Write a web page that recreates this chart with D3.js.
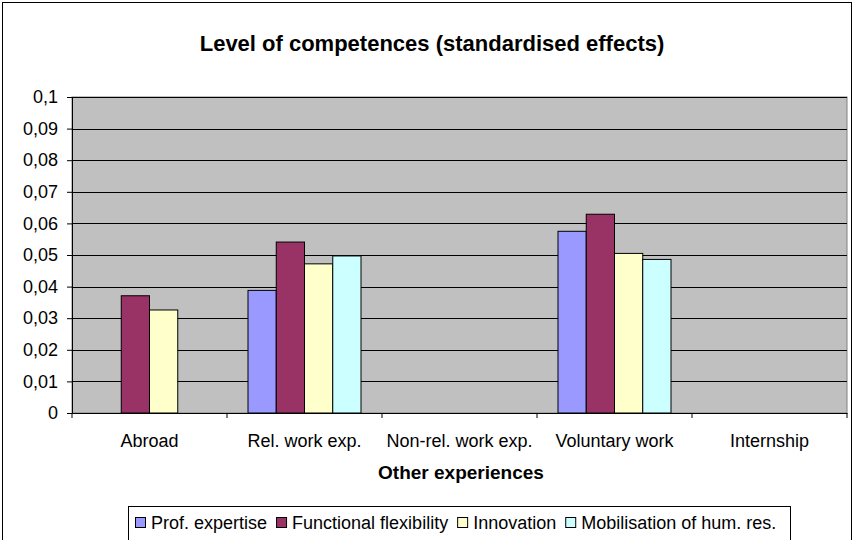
<!DOCTYPE html>
<html>
<head>
<meta charset="utf-8">
<script src="https://cdn.jsdelivr.net/npm/d3@7"></script>
<style>
  body { margin: 0; background: #fff; }
  svg { display: block; font-family: "Liberation Sans", Arial, sans-serif; }
</style>
</head>
<body>
<div id="chart"></div>
<script>
// categories and series
const categories = ["Abroad", "Rel. work exp.", "Non-rel. work exp.", "Voluntary work", "Internship"];
const seriesNames = ["Prof. expertise", "Functional flexibility", "Innovation", "Mobilisation of hum. res."];
const seriesColors = ["#9999FF", "#993366", "#FFFFCC", "#CCFFFF"];
const profExpertise = [null, 0.0388, null, 0.0575, null];
const functionalFlexibility = [0.0371, 0.0541, null, 0.0629, null];
const innovation = [0.0326, 0.0472, null, 0.0505, null];
const mobilisation = [null, 0.0497, null, 0.0486, null];
const yTicks = [0, 0.01, 0.02, 0.03, 0.04, 0.05, 0.06, 0.07, 0.08, 0.09, 0.1];

const seriesValues = [profExpertise, functionalFlexibility, innovation, mobilisation];

const W = 852, H = 540;
const margin = {top: 97, right: 5, bottom: 127, left: 72};
const width = W - margin.left - margin.right,
      height = H - margin.top - margin.bottom;

const svg = d3.select("#chart").append("svg")
    .attr("width", W).attr("height", H);

// outer chart frame
svg.append("rect")
    .attr("x", 2.5).attr("y", 2.5)
    .attr("width", W - 3).attr("height", H + 20)
    .attr("fill", "#fff").attr("stroke", "#000").attr("stroke-width", 1);

svg.append("text")
    .attr("x", 432).attr("y", 51)
    .attr("text-anchor", "middle")
    .attr("font-size", "22px").attr("font-weight", "bold")
    .text("Level of competences (standardised effects)");

const g = svg.append("g")
    .attr("transform", "translate(" + margin.left + "," + margin.top + ")");

let x0 = d3.scaleBand().domain(categories).range([0, width]).paddingInner(0).paddingOuter(0);
let x1 = d3.scaleBand().domain(seriesNames).range([21, x0.bandwidth() - 21]);
let y = d3.scaleLinear().domain([0, 0.1]).range([height, 0]);

// plot area
g.append("rect")
    .attr("width", width).attr("height", height)
    .attr("fill", "#C0C0C0").attr("stroke", "#808080");

// gridlines
g.append("g").selectAll("line")
    .data(yTicks.slice(1))
    .enter().append("line")
    .attr("x1", 0).attr("x2", width)
    .attr("y1", d => Math.round(y(d)) + 0.5).attr("y2", d => Math.round(y(d)) + 0.5)
    .attr("stroke", "#000");

// bars
const groups = g.selectAll(".grp")
    .data(categories)
    .enter().append("g")
    .attr("transform", d => "translate(" + x0(d) + ",0)");

groups.selectAll("rect")
    .data((c, i) => seriesNames.map((s, j) => ({s: s, j: j, v: seriesValues[j][i]})).filter(d => d.v != null))
    .enter().append("rect")
    .attr("x", d => x1(d.s))
    .attr("y", d => y(d.v))
    .attr("width", x1.bandwidth())
    .attr("height", d => y(0) - y(d.v))
    .attr("fill", d => seriesColors[d.j])
    .attr("stroke", "#000").attr("stroke-width", 1);

// y axis
const yAxis = g.append("g")
    .call(d3.axisLeft(y).tickValues(yTicks).tickSize(5).tickPadding(9)
        .tickFormat(d => d === 0 ? "0" : d3.format(".2~f")(d).replace(".", ",")));
yAxis.selectAll("text").attr("font-size", "18px").attr("fill", "#000").attr("font-family", "Liberation Sans, Arial, sans-serif");
yAxis.select(".domain").attr("stroke", "#000");

// x axis
const xAxis = g.append("g")
    .attr("transform", "translate(0," + height + ")")
    .call(d3.axisBottom(x0).tickSize(0).tickPadding(21));
xAxis.selectAll("text").attr("font-size", "18px").attr("fill", "#000").attr("font-family", "Liberation Sans, Arial, sans-serif");
xAxis.select(".domain").attr("stroke", "#000");
xAxis.selectAll(".sep")
    .data(d3.range(categories.length + 1))
    .enter().append("line")
    .attr("x1", i => i * x0.bandwidth()).attr("x2", i => i * x0.bandwidth())
    .attr("y1", 0).attr("y2", 5)
    .attr("stroke", "#000");

svg.append("text")
    .attr("x", 461).attr("y", 479)
    .attr("text-anchor", "middle")
    .attr("font-size", "19px").attr("font-weight", "bold")
    .text("Other experiences");

// legend
const legend = svg.append("g");
legend.append("rect")
    .attr("x", 128.5).attr("y", 506.5)
    .attr("width", 662).attr("height", 40)
    .attr("fill", "#fff").attr("stroke", "#000");

let lx = 135;
seriesNames.forEach((name, i) => {
    legend.append("rect")
        .attr("x", lx + 0.5).attr("y", 517.5)
        .attr("width", 10).attr("height", 10)
        .attr("fill", seriesColors[i]).attr("stroke", "#000");
    const t = legend.append("text")
        .attr("x", lx + 16).attr("y", 529)
        .attr("font-size", "18px")
        .text(name);
    lx += 16 + t.node().getComputedTextLength() + 9;
});
</script>
</body>
</html>
